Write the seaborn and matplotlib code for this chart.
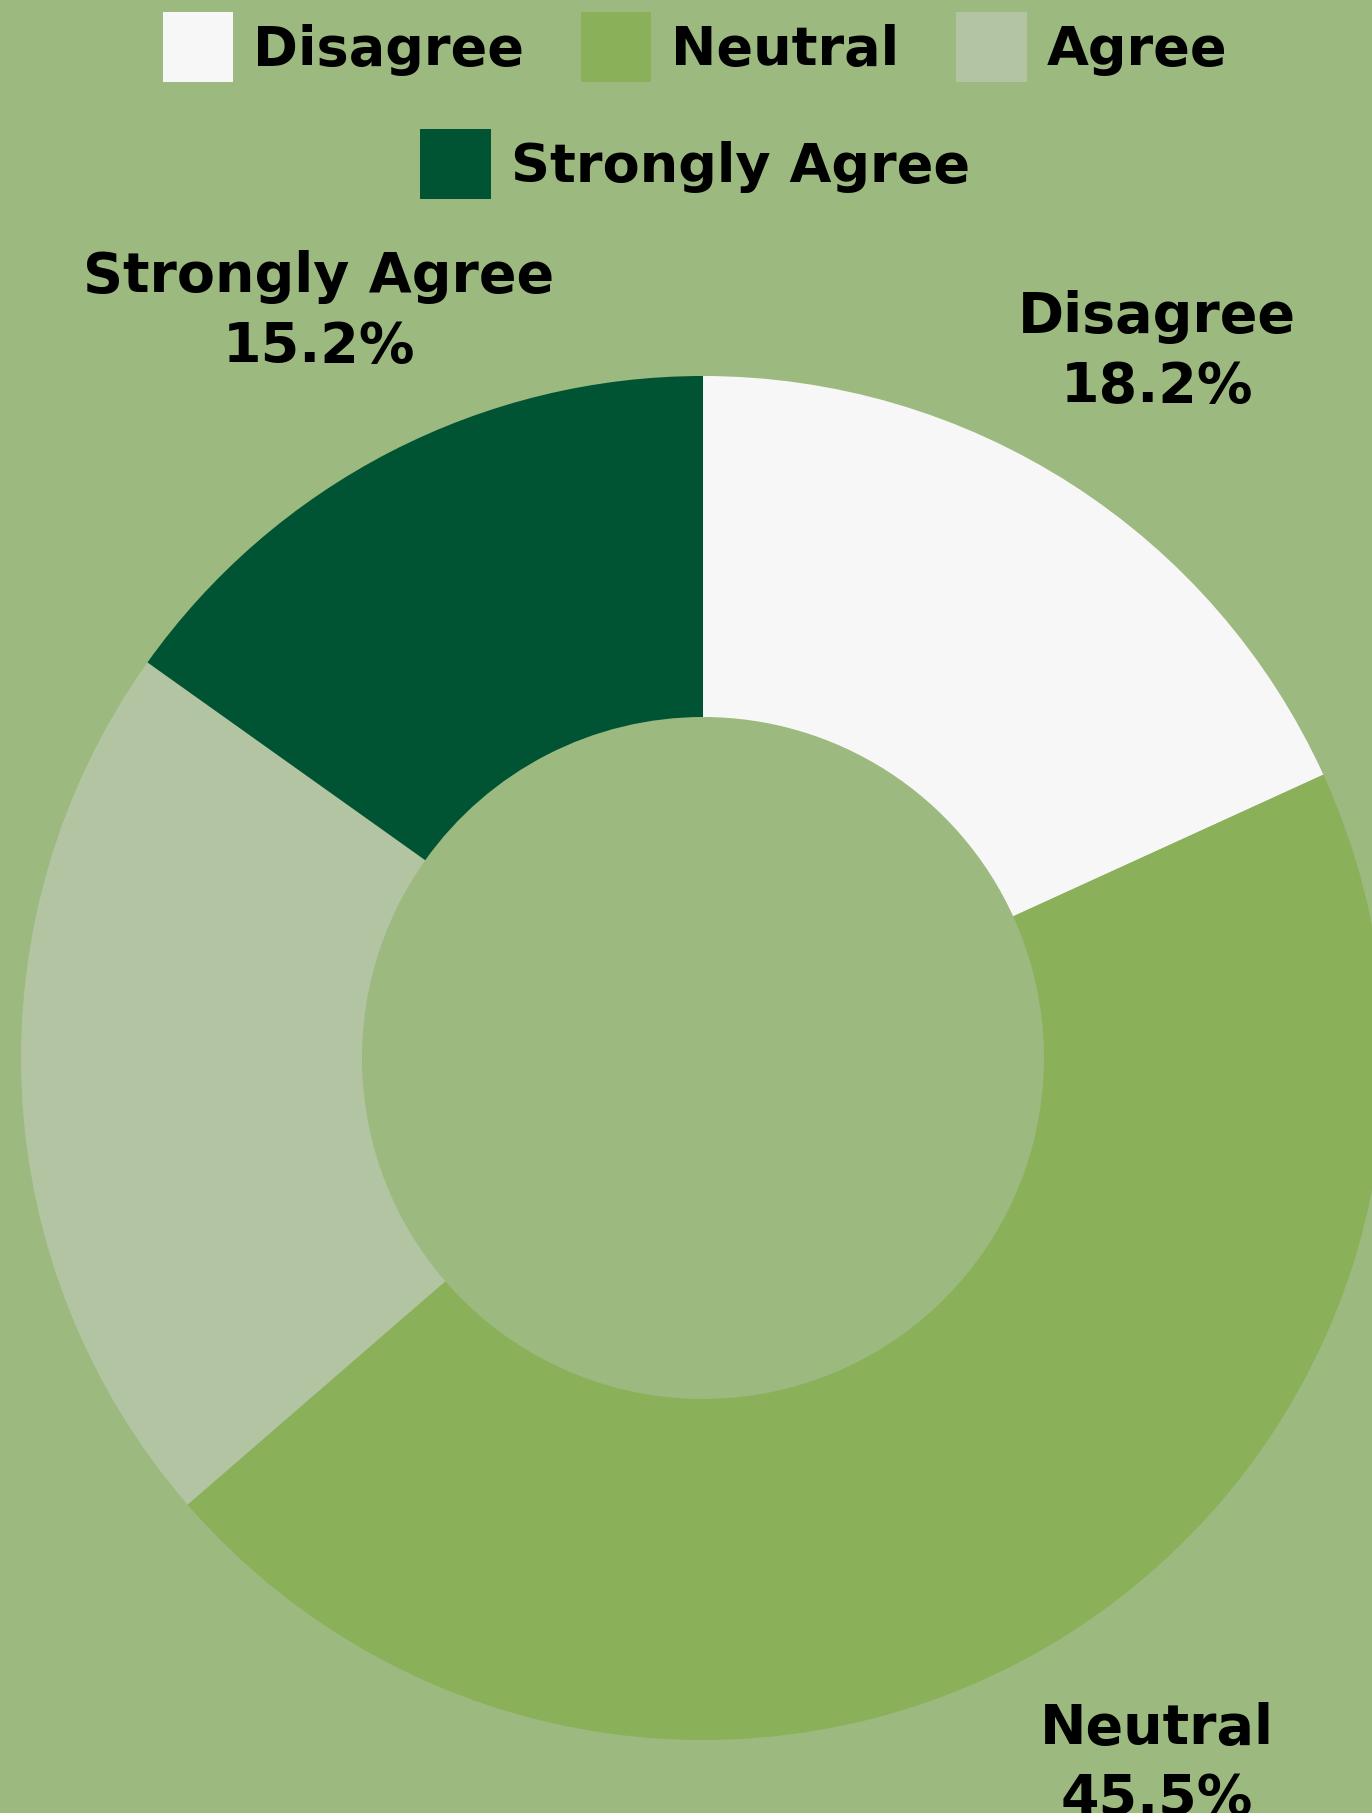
import seaborn as sns
import matplotlib.pyplot as plt
from matplotlib.patches import Patch
import numpy as np

# survey responses (counts out of 33)
categories = ["Disagree", "Neutral", "Agree", "Strongly Agree"]
counts = [6, 15, 7, 5]
colors = ["#f7f7f7", "#8ab05a", "#b3c4a2", "#005333"]
bg_color = "#9cb97f"

sns.set_style("white")
plt.rcParams['font.family'] = ['DejaVu Sans']
plt.rcParams['text.color'] = 'black'

W, H, DPI = 1372, 1813, 100
fig = plt.figure(figsize=(W / DPI, H / DPI), dpi=DPI, facecolor=bg_color)
ax = fig.add_axes([0, 0, 1, 1])
ax.set_facecolor(bg_color)

wedges, _ = ax.pie(
    counts,
    colors=colors,
    startangle=90,
    counterclock=False,
    wedgeprops=dict(width=0.5, edgecolor="none"),
)

# place the donut: center at (703, 1058) px, outer radius 682 px
cx, cy, r = 703, 1058, 682
ax.set_xlim(-cx / r, (W - cx) / r)
ax.set_ylim(-(H - cy) / r, cy / r)
ax.set_aspect("equal")
ax.axis("off")

total = sum(counts)
for w, cat, c in zip(wedges, categories, counts):
    mid = np.deg2rad((w.theta1 + w.theta2) / 2)
    ax.text(1.23 * np.cos(mid), 1.23 * np.sin(mid),
            f"{cat}\n{100 * c / total:.1f}%",
            ha="center", va="center", fontsize=40, fontweight="bold",
            linespacing=1.38, color="black")

handles = [Patch(facecolor=col, edgecolor="none") for col in colors]
common = dict(frameon=False, handlelength=1.3, handleheight=1.6,
              handletextpad=0.37, columnspacing=1.05, borderpad=0, borderaxespad=0,
              labelcolor="black", prop={'weight': 'bold', 'size': 39})
fig.legend(handles[:3], categories[:3], loc="center", ncol=3,
           bbox_to_anchor=(695 / W, 1 - 47 / H), **common)
fig.legend(handles[3:], categories[3:], loc="center", ncol=1,
           bbox_to_anchor=(695 / W, 1 - 164 / H), **common)

fig.savefig("out.png", dpi=DPI, facecolor=bg_color)
plt.close(fig)
